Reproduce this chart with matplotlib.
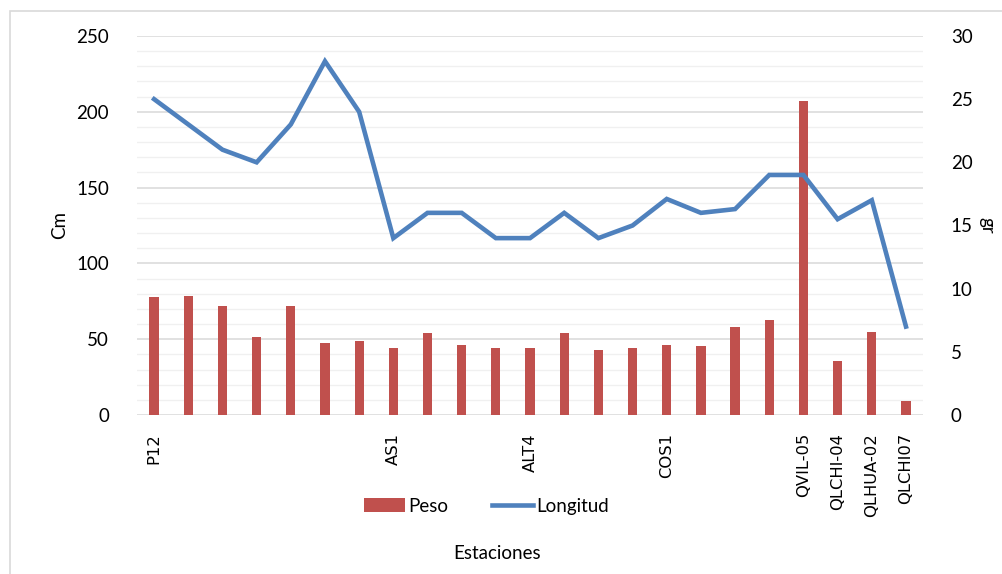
import numpy as np
import matplotlib
matplotlib.use("Agg")
import matplotlib.pyplot as plt
from matplotlib.patches import Patch
from matplotlib.lines import Line2D
from matplotlib.ticker import MultipleLocator

# stations (only some are labelled on the axis)
estaciones = ["P12", "", "", "", "", "", "", "AS1", "", "", "", "ALT4", "", "", "",
              "COS1", "", "", "", "QVIL-05", "QLCHI-04", "QLHUA-02", "QLCHI07"]

# bars, read against the left axis (Cm)
peso = [78, 78.5, 72, 51.5, 72, 47.8, 49, 44.3, 54.4, 46, 44, 44.3, 54.4, 43,
        44, 46, 45.2, 57.8, 62.8, 207, 35.8, 54.5, 9]

# line, read against the right axis (gr)
longitud = [25, 23, 21, 20, 23, 28, 24, 14, 16, 16, 14, 14, 16, 14, 15, 17.1,
            16, 16.3, 19, 19, 15.5, 17, 7]

bar_color = "#C0504D"
line_color = "#4F81BD"
num_font = "Lato"

fig = plt.figure(figsize=(10.03, 5.74), dpi=100)
ax = fig.add_axes([0.1366, 0.277, 0.7837, 0.6603])
ax2 = ax.twinx()

x = np.arange(len(estaciones))
ax.bar(x, peso, width=0.27, color=bar_color, zorder=3)
ax2.plot(x, longitud, color=line_color, linewidth=3.3, zorder=4,
         solid_joinstyle="miter")

ax.set_xlim(-0.5, len(estaciones) - 0.5)
ax.set_ylim(0, 250)
ax2.set_ylim(0, 30)
ax.yaxis.set_major_locator(MultipleLocator(50))
ax.yaxis.set_minor_locator(MultipleLocator(10))
ax2.yaxis.set_major_locator(MultipleLocator(5))

ax.grid(which="major", axis="y", color="#d9d9d9", linewidth=1.1, zorder=0)
ax.grid(which="minor", axis="y", color="#f0f0f0", linewidth=1.0, zorder=0)
ax.set_axisbelow(True)

for a in (ax, ax2):
    for s in a.spines.values():
        s.set_visible(False)
    a.tick_params(length=0)
ax.tick_params(axis="y", which="minor", length=0)

ax.set_xticks(x)
ax.set_xticklabels(estaciones, rotation=90, fontsize=11.8,
                   family="DejaVu Sans", color="#000000")
ax.tick_params(axis="x", pad=13)
ax.tick_params(axis="y", pad=20)
ax2.tick_params(axis="y", pad=20)
for lab in ax.get_yticklabels() + ax2.get_yticklabels():
    lab.set_family(num_font)
    lab.set_fontsize(13.5)

ax.set_ylabel("Cm", fontsize=13.5, family=num_font)
ax.yaxis.set_label_coords(-0.087, 0.5)
ax2.set_ylabel("gr", fontsize=13.5, family=num_font, rotation=-90,
               labelpad=8, va="bottom")
ax2.yaxis.set_label_coords(1.07, 0.5)

fig.text(0.496, 0.036, "Estaciones", ha="center", va="center",
         fontsize=13.5, family=num_font)

handles = [Patch(facecolor=bar_color, edgecolor="none"),
           Line2D([0], [0], color=line_color, linewidth=3.3)]
fig.legend(handles, ["Peso", "Longitud"], loc="center",
           bbox_to_anchor=(0.485, 0.118), ncol=2, frameon=False,
           prop={"family": num_font, "size": 13.5}, handlelength=2.2,
           handletextpad=0.2, columnspacing=2.3, handleheight=0.8)

# light chart frame
fig.patches.append(plt.Rectangle((10 / 1003, -0.01), 1.1, 1 - 11 / 574 + 0.01,
                                 transform=fig.transFigure, fill=False,
                                 edgecolor="#d9d9d9", linewidth=1.2))

fig.savefig("out.png", dpi=100)
